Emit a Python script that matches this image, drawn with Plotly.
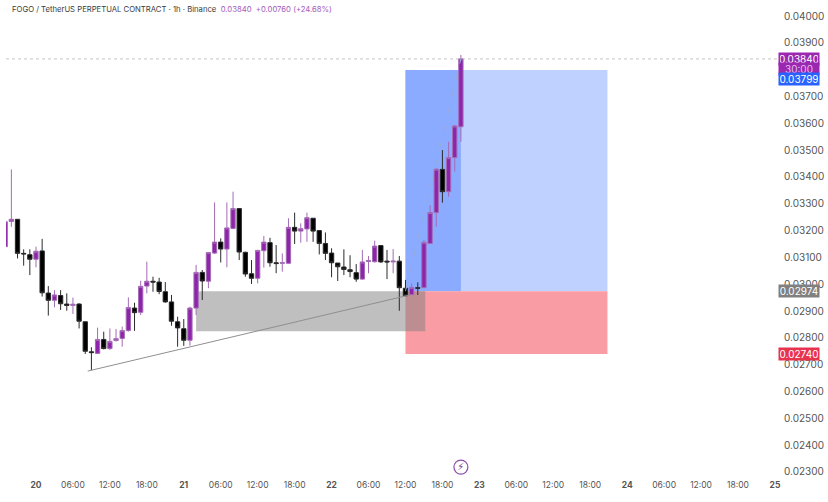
import plotly.graph_objects as go

# Hours relative to the 20th 00:00
hours = list(range(-5, 70))
# Prices in 1e-5 USDT
open_ = [3140,3234,3242,3115,3110,3093,3124,2967,2940,2958,2926,2921,2926,2860,2748,2742,2794,2760,2790,2798,
         2827,2911,2895,2993,3011,3008,2972,2934,2860,2834,2791,2911,3044,3011,3116,3157,3131,3208,3282,3119,
         3039,3022,3125,3155,3080,3078,3078,3212,3198,3206,3246,3200,3152,3116,3079,3064,3054,3043,3019,3085,
         3084,3144,3086,3083,3086,2985,2961,2987,2987,3152,3267,3428,3345,3472,3587]
high = [3233,3428,3242,3130,3130,3140,3169,2993,2978,2978,2966,2950,2929,2860,2765,2838,2823,2835,2833,2842,
        2951,2931,3013,3084,3028,3024,3008,2960,2879,2870,2916,3072,3053,3118,3305,3171,3305,3345,3282,3121,
        3090,3128,3180,3173,3146,3115,3246,3267,3227,3267,3246,3202,3193,3134,3079,3130,3108,3075,3128,3105,
        3162,3144,3128,3131,3105,3016,3003,3007,3165,3295,3432,3500,3531,3594,3855]
low = [3140,3214,3096,3069,3034,3063,2954,2883,2914,2904,2901,2889,2835,2740,2680,2740,2757,2755,2786,2767,
       2823,2826,2885,2966,2972,2963,2931,2845,2767,2770,2771,2885,2941,2985,3113,3081,3063,3205,3090,3028,
       3001,3003,3062,3065,3041,3047,3075,3150,3155,3158,3158,3111,3090,3026,3012,3034,3026,3009,3016,3041,
       3080,3080,3019,3041,2901,2956,2960,2960,2985,3150,3214,3304,3326,3420,3531]
close = [3233,3242,3115,3113,3093,3123,2968,2940,2960,2927,2921,2925,2862,2750,2745,2794,2760,2787,2797,2827,
         2913,2894,2992,3011,3008,2973,2934,2862,2837,2791,2911,3044,3012,3118,3157,3131,3210,3282,3120,3038,
         3022,3126,3157,3080,3077,3080,3212,3198,3207,3248,3198,3152,3115,3080,3065,3055,3047,3019,3083,3088,
         3142,3083,3083,3086,2987,2957,2988,2985,3156,3267,3429,3345,3472,3590,3840]
scale = 1e-5
open_p, high_p, low_p, close_p = [[v * scale for v in s] for s in (open_, high, low, close)]

tick_hours = list(range(0, 121, 6))
tick_labels = ["<b>20</b>","06:00","12:00","18:00","<b>21</b>","06:00","12:00","18:00","<b>22</b>","06:00","12:00",
               "18:00","<b>23</b>","06:00","12:00","18:00","<b>24</b>","06:00","12:00","18:00","<b>25</b>"]
price_ticks = [0.023, 0.024, 0.025, 0.026, 0.027, 0.028, 0.029, 0.030, 0.031, 0.032, 0.033, 0.034, 0.035,
               0.036, 0.037, 0.039, 0.040]

last_price = 0.03840
target = 0.03799
entry = 0.02974
stop = 0.02740
zone_low = 0.02825
zone_start, zone_end = 26.0, 63.2
pos_start, pos_mid, pos_end = 60.0, 69.0, 92.8
trend_x = [8.4, 60.7]
trend_y = [0.02676, 0.02960]
dash_x = [60, 69]
dash_y = [0.02974, 0.03840]

PURPLE = "#8E24AA"
fig = go.Figure()
fig.add_trace(go.Scatter(x=trend_x, y=trend_y, mode="lines", line=dict(color="#8f8f8f", width=1)))
fig.add_trace(go.Scatter(x=dash_x, y=dash_y, mode="lines", line=dict(color="#9aa9d8", width=1, dash="dash")))
fig.add_trace(go.Candlestick(
    x=hours, open=open_p, high=high_p, low=low_p, close=close_p, whiskerwidth=0,
    increasing=dict(line=dict(color="#A46BB6", width=1), fillcolor=PURPLE),
    decreasing=dict(line=dict(color="#2a2a2a", width=1), fillcolor="#000000"),
))
fig.add_trace(go.Scatter(
    x=[69], y=[0.02318], mode="markers+text", text=["⚡"], textposition="middle center",
    textfont=dict(family="DejaVu Sans", size=10, color="#7d3f98"),
    marker=dict(symbol="circle-open", size=14, color="#8E4BA8", line=dict(width=1.2)),
    cliponaxis=False,
))

def rect(x0, x1, y0, y1, color):
    return dict(type="rect", xref="x", yref="y", x0=x0, x1=x1, y0=y0, y1=y1,
                fillcolor=color, line=dict(width=0), layer="below")

shapes = [
    rect(pos_start, pos_end, entry, target, "#BFD1FF"),
    rect(pos_start, pos_mid, entry, target, "#8AABFF"),
    rect(pos_start, pos_end, stop, entry, "#F99CA3"),
    rect(zone_start, zone_end, zone_low, entry, "rgba(128,128,128,0.5)"),
    dict(type="line", xref="paper", yref="y", x0=0, x1=1, y0=last_price, y1=last_price,
         line=dict(color="#c4c4c4", width=1, dash="dot"), layer="below"),
]

def tag(text, price, color, shift=0, h=10, txt="white"):
    return dict(xref="paper", yref="y", x=0.9975, y=price, xanchor="left", yanchor="middle",
                yshift=shift, text=text, showarrow=False, bgcolor=color, width=38, height=h,
                borderpad=1, align="center", font=dict(family="Inter", size=10, color=txt))

annotations = [
    dict(xref="paper", yref="paper", x=0.0075, y=0.9985, xanchor="left", yanchor="top", showarrow=False,
         yshift=-2, xshift=-2, align="left", font=dict(family="Inter", size=7.7, color="#3a3a3a"),
         text="FOGO / TetherUS PERPETUAL CONTRACT · 1h · Binance  "
              "<span style='color:#A45CBC'>0.03840  +0.00760 (+24.68%)</span>"),
    tag("0.03840", last_price, "#9C27B0"),
    tag("30:00", last_price, "#9C27B0", -10, txt="#E3BDEE"),
    tag("0.03799", target, "#2962FF", -9.5),
    tag("0.02974", entry, "#808080"),
    tag("0.02740", stop, "#E8334F"),
]

fig.update_layout(
    width=828, height=502, margin=dict(l=6, r=48, t=0, b=24),
    paper_bgcolor="white", plot_bgcolor="white", showlegend=False, boxgap=0,
    shapes=shapes, annotations=annotations,
    xaxis=dict(range=[-4.87, 120.82], tickmode="array", tickvals=tick_hours, ticktext=tick_labels,
               showgrid=False, zeroline=False, showline=False, ticks="", rangeslider=dict(visible=False),
               tickangle=0, tickfont=dict(family="Inter", size=8.5, color="#555555")),
    yaxis=dict(range=[0.022774, 0.040597], side="right", tickmode="array", tickvals=price_ticks,
               tickformat=".5f", showgrid=False, zeroline=False, showline=False,
               ticks="outside", ticklen=1, tickcolor="white",
               tickfont=dict(family="Inter", size=10, color="#555555")),
)

fig.write_html("out.html", config=dict(displayModeBar=False),
               post_script="document.body.style.margin='0';document.body.style.overflow='hidden';")
